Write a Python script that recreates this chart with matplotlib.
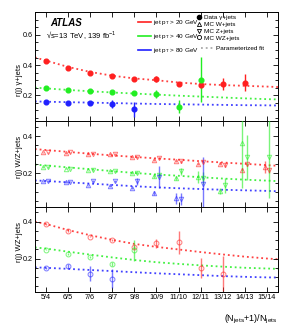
import numpy as np
import matplotlib.pyplot as plt
from matplotlib.ticker import MultipleLocator, NullFormatter, FixedLocator
from matplotlib.lines import Line2D

plt.rcParams['font.family'] = ['Liberation Sans', 'DejaVu Sans']
plt.rcParams['mathtext.fontset'] = 'custom'
plt.rcParams['mathtext.rm'] = 'Liberation Sans'
plt.rcParams['mathtext.it'] = 'Liberation Sans:italic'
plt.rcParams['mathtext.bf'] = 'Liberation Sans:bold'
plt.rcParams['mathtext.default'] = 'regular'

# categories (N_jets+1)/N_jets
cats = ['5/4', '6/5', '7/6', '8/7', '9/8', '10/9', '11/10', '12/11', '13/12', '14/13', '15/14']
xcat = np.arange(5, 16)

# parameterized fits, sampled at these x
fit_x = [4.5, 5, 6, 7, 8, 9, 10, 11, 12, 13, 14, 15, 15.5]
fit_gj = {
    'r': [0.451, 0.43, 0.388, 0.355, 0.33, 0.312, 0.30, 0.285, 0.275, 0.268, 0.263, 0.258, 0.255],
    'g': [0.251, 0.246, 0.236, 0.227, 0.219, 0.212, 0.205, 0.198, 0.192, 0.186, 0.180, 0.175, 0.173],
    'b': [0.160, 0.158, 0.155, 0.152, 0.149, 0.146, 0.143, 0.141, 0.139, 0.137, 0.135, 0.134, 0.133],
}
fit_wz = {
    'r': [0.330, 0.325, 0.315, 0.305, 0.296, 0.288, 0.280, 0.273, 0.265, 0.258, 0.251, 0.244, 0.240],
    'g': [0.247, 0.242, 0.232, 0.222, 0.212, 0.202, 0.194, 0.187, 0.179, 0.172, 0.166, 0.161, 0.158],
    'b': [0.162, 0.159, 0.152, 0.145, 0.138, 0.131, 0.125, 0.120, 0.116, 0.112, 0.109, 0.106, 0.104],
}
fit_wzc = {
    'r': [0.400, 0.388, 0.355, 0.327, 0.302, 0.280, 0.264, 0.250, 0.236, 0.223, 0.211, 0.201, 0.197],
    'g': [0.261, 0.255, 0.238, 0.222, 0.207, 0.193, 0.181, 0.172, 0.164, 0.157, 0.151, 0.147, 0.145],
    'b': [0.153, 0.151, 0.145, 0.139, 0.133, 0.127, 0.121, 0.116, 0.111, 0.106, 0.102, 0.099, 0.098],
}

# Data gamma+jets
nan = np.nan
gj_r = [0.429, 0.380, 0.351, 0.329, 0.311, 0.309, 0.275, 0.271, 0.275, 0.284, nan]
gj_r_err = [0.005, 0.005, 0.005, 0.006, 0.008, 0.018, 0.012, 0.02, 0.04, 0.057, 0]
gj_g = [0.249, 0.238, 0.229, 0.220, 0.215, 0.207, 0.124, 0.303, nan, nan, nan]
gj_g_err = [0.005, 0.005, 0.006, 0.007, 0.01, 0.027, 0.043, 0.148, 0, 0, 0]
gj_b = [0.158, 0.149, 0.152, 0.142, 0.107, nan, nan, nan, nan, nan, nan]
gj_b_err = [0.005, 0.005, 0.007, 0.025, 0.05, 0, 0, 0, 0, 0, 0]

# MC W+jets
w_r = [0.312, 0.310, 0.304, 0.302, 0.287, 0.270, 0.266, 0.252, 0.252, 0.220, 0.234]
w_r_err = [0.004, 0.004, 0.004, 0.005, 0.005, 0.006, 0.006, 0.006, 0.008, 0.01, 0.03]
w_g = [0.234, 0.225, 0.216, 0.211, 0.204, 0.185, 0.175, 0.180, 0.105, 0.360, nan]
w_g_err = [0.004, 0.004, 0.004, 0.005, 0.006, 0.01, 0.01, 0.03, 0.015, 0.24, 0]
w_b = [0.157, 0.153, 0.135, 0.130, 0.123, 0.096, 0.067, nan, nan, nan, nan]
w_b_err = [0.004, 0.004, 0.005, 0.005, 0.006, 0.01, 0.03, 0, 0, 0, 0]

# MC Z+jets
z_r = [0.312, 0.312, 0.306, 0.303, 0.288, 0.283, 0.264, 0.261, 0.243, 0.249, 0.216]
z_r_err = [0.004, 0.004, 0.004, 0.005, 0.005, 0.006, 0.006, 0.006, 0.01, 0.008, 0.015]
z_g = [0.234, 0.225, 0.216, 0.211, 0.204, 0.189, 0.211, 0.175, 0.135, 0.286, 0.290]
z_g_err = [0.004, 0.004, 0.004, 0.005, 0.006, 0.01, 0.018, 0.03, 0.04, 0.12, 0.22]
z_b = [0.160, 0.155, 0.158, 0.158, 0.157, 0.180, 0.063, 0.144, nan, nan, nan]
z_b_err = [0.004, 0.004, 0.005, 0.005, 0.02, 0.06, 0.03, 0.144, 0, 0, 0]

# MC WZ+jets
wz_r = [0.387, 0.351, 0.320, 0.303, 0.265, 0.284, 0.288, 0.151, 0.118, nan, nan]
wz_r_err = [0.004, 0.005, 0.005, 0.006, 0.01, 0.025, 0.06, 0.055, 0.095, 0, 0]
wz_g = [0.249, 0.226, 0.207, 0.172, 0.245, nan, nan, nan, nan, nan, nan]
wz_g_err = [0.004, 0.005, 0.005, 0.01, 0.055, 0, 0, 0, 0, 0, 0]
wz_b = [0.150, 0.161, 0.118, 0.092, nan, nan, nan, nan, nan, nan, nan]
wz_b_err = [0.004, 0.012, 0.04, 0.05, 0, 0, 0, 0, 0, 0, 0]

cols = {'r': '#ff2020', 'g': '#22ee22', 'b': '#2020ff'}
pt_labels = ['jet p$_T$ > 20 GeV', 'jet p$_T$ > 40 GeV', 'jet p$_T$ > 80 GeV']

fig = plt.figure(figsize=(2.93, 3.29), dpi=100)
L, W = 0.119, 0.830
ax1 = fig.add_axes([L, 0.632, W, 0.331])
ax2 = fig.add_axes([L, 0.371, W, 0.261])
ax3 = fig.add_axes([L, 0.1125, W, 0.2585])


def style(ax, ylim):
    ax.set_xlim(4.5, 15.5)
    ax.set_ylim(*ylim)
    ax.xaxis.set_major_locator(FixedLocator(xcat))
    ax.yaxis.set_major_locator(MultipleLocator(0.2))
    ax.yaxis.set_minor_locator(MultipleLocator(0.05))
    ax.tick_params(which='both', direction='in', top=True, right=True, width=0.6, labelsize=5.2, pad=1.5)
    ax.tick_params(which='major', length=3.5)
    ax.tick_params(which='minor', length=2)
    for s in ax.spines.values():
        s.set_linewidth(0.7)


def fits(ax, f):
    for k in 'rgb':
        ax.plot(fit_x, f[k], ls=':', lw=1.3, color=cols[k], alpha=0.85, zorder=1)


style(ax1, (0.03, 0.75))
style(ax2, (0.02, 0.48))
style(ax3, (0.02, 0.48))
for ax in (ax1, ax2):
    ax.xaxis.set_major_formatter(NullFormatter())
ax3.set_xticks(xcat)
ax3.set_xticklabels(cats, fontsize=5.2)

fits(ax1, fit_gj)
fits(ax2, fit_wz)
fits(ax3, fit_wzc)

for k, y, e in [('r', gj_r, gj_r_err), ('g', gj_g, gj_g_err), ('b', gj_b, gj_b_err)]:
    ax1.errorbar(xcat, y, yerr=e, fmt='o', ms=3.4, color=cols[k], elinewidth=1, capsize=0, zorder=3)

dx = 0.11
for k, y, e in [('r', w_r, w_r_err), ('g', w_g, w_g_err), ('b', w_b, w_b_err)]:
    ax2.errorbar(xcat - dx, y, yerr=e, fmt='^', ms=3.2, mfc='none', mew=0.7, color=cols[k],
                 elinewidth=1, capsize=0, alpha=0.6, zorder=3)
for k, y, e in [('r', z_r, z_r_err), ('g', z_g, z_g_err), ('b', z_b, z_b_err)]:
    ax2.errorbar(xcat + dx, y, yerr=e, fmt='v', ms=3.2, mfc='none', mew=0.7, color=cols[k],
                 elinewidth=1, capsize=0, alpha=0.6, zorder=3)
for k, y, e in [('r', wz_r, wz_r_err), ('g', wz_g, wz_g_err), ('b', wz_b, wz_b_err)]:
    ax3.errorbar(xcat, y, yerr=e, fmt='o', ms=3.5, mfc='none', mew=0.7, color=cols[k],
                 elinewidth=1, capsize=0, alpha=0.6, zorder=3)

ax1.set_ylabel('r(j) γ+jets', fontsize=5.5)
ax2.set_ylabel('r(j) W/Z+jets', fontsize=5.5)
ax3.set_ylabel('r(j) WZ+jets', fontsize=5.5)
ax1.yaxis.set_label_coords(-0.062, 0.376)
ax2.yaxis.set_label_coords(-0.062, 0.58)
ax3.yaxis.set_label_coords(-0.062, 0.59)
for ax in (ax1, ax2, ax3):
    ax.yaxis.label.set_va('center')

ax1.text(0.062, 0.90, 'ATLAS', transform=ax1.transAxes, fontsize=7, fontweight='bold',
         style='italic', va='center')
ax1.text(0.045, 0.79, '√s=13 TeV, 139 fb$^{-1}$', transform=ax1.transAxes, fontsize=5.5, va='center')

h1 = [Line2D([], [], color=cols[k], lw=1.2) for k in 'rgb']
leg1 = ax1.legend(h1, pt_labels, loc='upper left', bbox_to_anchor=(0.424, 0.945), frameon=False,
                  fontsize=4.6, handlelength=2.0, handletextpad=0.4, labelspacing=0.75,
                  borderpad=0, borderaxespad=0)
ax1.add_artist(leg1)

h2 = [Line2D([], [], ls='none', marker='o', color='k', ms=3),
      Line2D([], [], ls='none', marker='^', color='k', mfc='none', mew=0.6, ms=3),
      Line2D([], [], ls='none', marker='v', color='k', mfc='none', mew=0.6, ms=3),
      Line2D([], [], ls='none', marker='o', color='k', mfc='none', mew=0.6, ms=3)]
leg2 = ax1.legend(h2, ['Data γ+jets', 'MC W+jets', 'MC Z+jets', 'MC WZ+jets'], loc='upper left',
                  bbox_to_anchor=(0.66, 0.975), frameon=False, fontsize=4.6, handlelength=1.0,
                  handletextpad=0.3, labelspacing=0.2, borderpad=0, borderaxespad=0)
ax1.add_artist(leg2)

h3 = [Line2D([], [], ls=':', color='#aaaaaa', lw=1.3)]
ax1.legend(h3, ['Parameterized fit'], loc='upper left', bbox_to_anchor=(0.685, 0.695), frameon=False,
           fontsize=4.6, handlelength=2.0, handletextpad=0.3, borderpad=0, borderaxespad=0)

fig.text(0.949, 0.028, '(N$_{jets}$+1)/N$_{jets}$', ha='right', va='center', fontsize=6.5)

fig.savefig('out.png', dpi=100)
